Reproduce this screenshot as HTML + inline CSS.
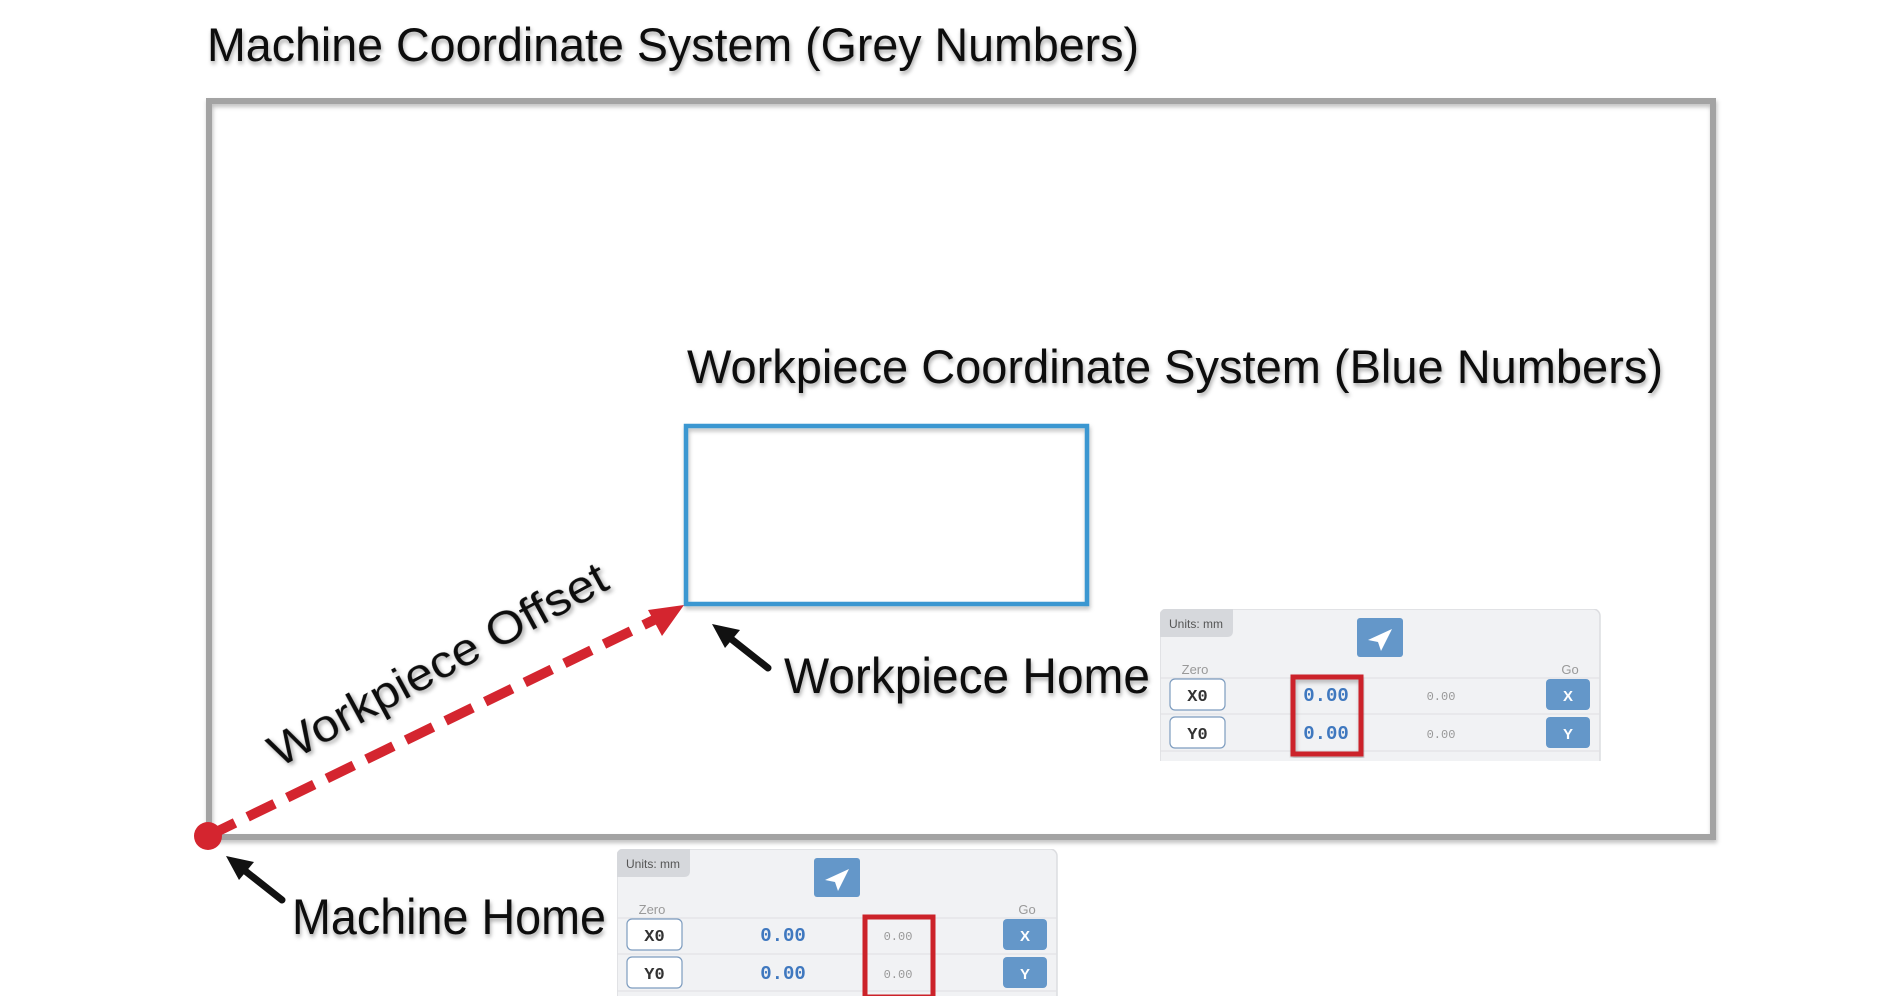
<!DOCTYPE html>
<html><head><meta charset="utf-8"><style>
html,body{margin:0;padding:0;background:#fff;}
svg{display:block}
text{font-family:"Liberation Sans",sans-serif;}
.mono{font-family:"Liberation Mono",monospace;}
</style></head><body>
<svg width="1890" height="996" viewBox="0 0 1890 996" xmlns="http://www.w3.org/2000/svg">
<defs>
<filter id="sh" x="-5%" y="-20%" width="110%" height="150%"><feDropShadow dx="1" dy="3" stdDeviation="2" flood-color="#000" flood-opacity="0.35"/></filter>
<filter id="sh2" x="-5%" y="-5%" width="110%" height="110%"><feDropShadow dx="1" dy="3" stdDeviation="2" flood-color="#000" flood-opacity="0.25"/></filter>
<g id="panel">
  <rect x="0" y="0" width="440" height="160" rx="7" fill="#f1f2f4" stroke="#dcdde0" stroke-width="1.5"/>
  <path d="M0 7 Q0 0 7 0 L73 0 L73 22 Q73 28 67 28 L0 28 Z" fill="#d6d8dc"/>
  <text x="9" y="19" font-size="12" fill="#555">Units: mm</text>
  <rect x="197" y="9" width="46" height="39" rx="3" fill="#6497c9"/>
  <path d="M232 20 L208 31 L218 33 L221 42 Z" fill="#fff"/>
  <text x="35" y="65" font-size="13" fill="#999" text-anchor="middle">Zero</text>
  <text x="410" y="65" font-size="13" fill="#999" text-anchor="middle">Go</text>
  <line x1="0" y1="69" x2="440" y2="69" stroke="#dedfe2"/>
  <line x1="0" y1="105" x2="440" y2="105" stroke="#dedfe2"/>
  <line x1="0" y1="142" x2="440" y2="142" stroke="#dedfe2"/>
  <rect x="10" y="70" width="55" height="31" rx="5" fill="#fff" stroke="#7d9cbf" stroke-width="1.2"/>
  <text class="mono" x="37.5" y="92" font-size="17" font-weight="bold" fill="#333" text-anchor="middle">X0</text>
  <rect x="10" y="108" width="55" height="31" rx="5" fill="#fff" stroke="#7d9cbf" stroke-width="1.2"/>
  <text class="mono" x="37.5" y="130" font-size="17" font-weight="bold" fill="#333" text-anchor="middle">Y0</text>
  <text class="mono" x="166" y="92" font-size="19" font-weight="bold" fill="#3f78bf" text-anchor="middle">0.00</text>
  <text class="mono" x="166" y="130" font-size="19" font-weight="bold" fill="#3f78bf" text-anchor="middle">0.00</text>
  <text class="mono" x="281" y="91" font-size="12" fill="#999" text-anchor="middle">0.00</text>
  <text class="mono" x="281" y="129" font-size="12" fill="#999" text-anchor="middle">0.00</text>
  <rect x="386" y="70" width="44" height="31" rx="4" fill="#6497c9"/>
  <text x="408" y="92" font-size="15" font-weight="bold" fill="#fff" text-anchor="middle">X</text>
  <rect x="386" y="108" width="44" height="31" rx="4" fill="#6497c9"/>
  <text x="408" y="130" font-size="15" font-weight="bold" fill="#fff" text-anchor="middle">Y</text>
</g>
</defs>

<text x="207" y="61" font-size="47" fill="#111" textLength="932" lengthAdjust="spacingAndGlyphs" filter="url(#sh)">Machine Coordinate System (Grey Numbers)</text>

<rect x="209" y="101" width="1504" height="736" fill="none" stroke="#a3a3a3" stroke-width="6" filter="url(#sh2)"/>

<text x="687" y="383" font-size="47" fill="#111" textLength="976" lengthAdjust="spacingAndGlyphs" filter="url(#sh)">Workpiece Coordinate System (Blue Numbers)</text>

<rect x="686" y="426" width="401" height="178" fill="none" stroke="#3b97d1" stroke-width="4.5" filter="url(#sh2)"/>

<line x1="208" y1="836" x2="660" y2="617" stroke="#d4252f" stroke-width="10" stroke-dasharray="30 14"/>
<polygon points="684,605 648,610 662,636" fill="#d4252f"/>
<circle cx="208" cy="836" r="14" fill="#d4252f"/>

<text transform="translate(279,768) rotate(-28.5)" font-size="45" fill="#111" textLength="378" lengthAdjust="spacingAndGlyphs" filter="url(#sh)">Workpiece Offset</text>

<line x1="768" y1="668" x2="730" y2="638" stroke="#111" stroke-width="7" stroke-linecap="round"/>
<polygon points="712,624 740,630 725,648" fill="#111"/>
<line x1="282" y1="900" x2="244" y2="870" stroke="#111" stroke-width="7" stroke-linecap="round"/>
<polygon points="226,856 254,862 239,880" fill="#111"/>

<text x="784" y="693" font-size="50" fill="#111" textLength="366" lengthAdjust="spacingAndGlyphs" filter="url(#sh)">Workpiece Home</text>
<text x="292" y="934" font-size="50" fill="#111" textLength="314" lengthAdjust="spacingAndGlyphs" filter="url(#sh)">Machine Home</text>

<svg x="1160" y="609" width="441" height="152" overflow="hidden"><use href="#panel"/></svg>
<rect x="1293" y="677" width="68" height="77" fill="none" stroke="#cc2229" stroke-width="5" filter="url(#sh2)"/>

<svg x="617" y="849" width="441" height="152" overflow="hidden"><use href="#panel"/></svg>
<rect x="865" y="917" width="68" height="80" fill="none" stroke="#cc2229" stroke-width="5"/>
</svg>
</body></html>
